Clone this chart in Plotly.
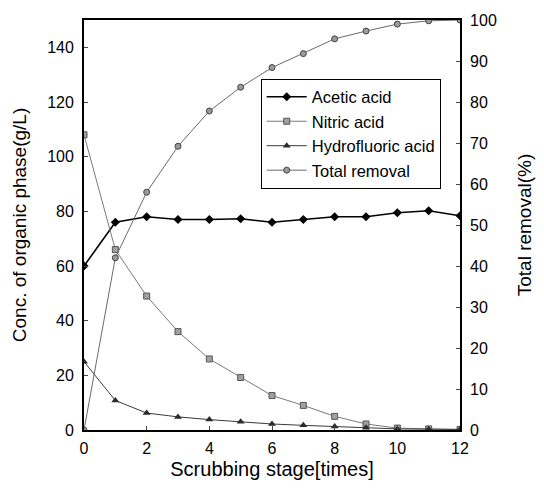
import plotly.graph_objects as go

# Scrubbing stages and measured series
stages = [0, 1, 2, 3, 4, 5, 6, 7, 8, 9, 10, 11, 12]
acetic = [60, 76, 78, 77, 77, 77.3, 76, 77, 78, 78, 79.5, 80.2, 78.4]
nitric = [108, 66, 49, 36, 26, 19.2, 12.6, 9, 5, 2.2, 0.7, 0.4, 0.2]
hydrofluoric = [25, 10.8, 6.2, 4.8, 3.8, 3.0, 2.2, 1.7, 1.3, 0.8, 0.4, 0.3, 0.2]
total_removal = [0, 42, 58, 69.2, 77.8, 83.6, 88.4, 91.8, 95.4, 97.3, 99, 99.8, 100]

x_ticks = [0, 2, 4, 6, 8, 10, 12]
left_ticks = [0, 20, 40, 60, 80, 100, 120, 140]
right_ticks = [0, 10, 20, 30, 40, 50, 60, 70, 80, 90, 100]

FONT = "Liberation Sans, Arial, sans-serif"

fig = go.Figure()

fig.add_trace(go.Scatter(
    x=stages, y=acetic, name="Acetic acid", mode="lines+markers",
    line=dict(color="black", width=1.6),
    marker=dict(symbol="diamond", size=7, color="black"),
))
fig.add_trace(go.Scatter(
    x=stages, y=nitric, name="Nitric acid", mode="lines+markers",
    line=dict(color="#7a7a7a", width=1),
    marker=dict(symbol="square", size=6, color="#a0a0a0",
                line=dict(color="#555555", width=1)),
))
fig.add_trace(go.Scatter(
    x=stages, y=hydrofluoric, name="Hydrofluoric acid", mode="lines+markers",
    line=dict(color="#3a3a3a", width=1),
    marker=dict(symbol="triangle-up", size=7, color="#2a2a2a"),
))
fig.add_trace(go.Scatter(
    x=stages, y=total_removal, name="Total removal", mode="lines+markers",
    yaxis="y2",
    line=dict(color="#6a6a6a", width=1),
    marker=dict(symbol="circle", size=6, color="#9a9a9a",
                line=dict(color="#444444", width=1)),
))

fig.update_layout(
    width=544, height=490,
    margin=dict(l=84, r=81, t=15, b=60),
    paper_bgcolor="white", plot_bgcolor="white",
    font=dict(family=FONT, size=16, color="black"),
    showlegend=True,
    legend=dict(
        x=0.47, y=0.723, xanchor="left", yanchor="middle",
        bordercolor="black", borderwidth=1, bgcolor="white",
        font=dict(family=FONT, size=16.5, color="black"),
        tracegroupgap=0, itemwidth=40,
    ),
    xaxis=dict(
        range=[0, 12], tickvals=x_ticks, ticks="inside", ticklen=4,
        showgrid=False, zeroline=False, showline=True, linecolor="black",
        linewidth=1.5, mirror=True, ticklabelstandoff=3,
        title=dict(text="Scrubbing stage[times]", font=dict(size=20), standoff=6),
        tickfont=dict(size=16),
    ),
    yaxis=dict(
        range=[0, 150], tickvals=left_ticks, ticks="inside", ticklen=4,
        showgrid=False, zeroline=False, showline=True, linecolor="black",
        linewidth=1.8, ticklabelstandoff=5,
        title=dict(text="Conc. of organic phase(g/L)", font=dict(size=19), standoff=16),
        tickfont=dict(size=16),
    ),
    yaxis2=dict(
        range=[0, 100], tickvals=right_ticks, ticks="inside", ticklen=4,
        overlaying="y", side="right",
        showgrid=False, zeroline=False, showline=True, linecolor="black",
        linewidth=1.8, ticklabelstandoff=5,
        title=dict(text="Total removal(%)", font=dict(size=19), standoff=22),
        tickfont=dict(size=16),
    ),
)

fig.write_html("out.html")
